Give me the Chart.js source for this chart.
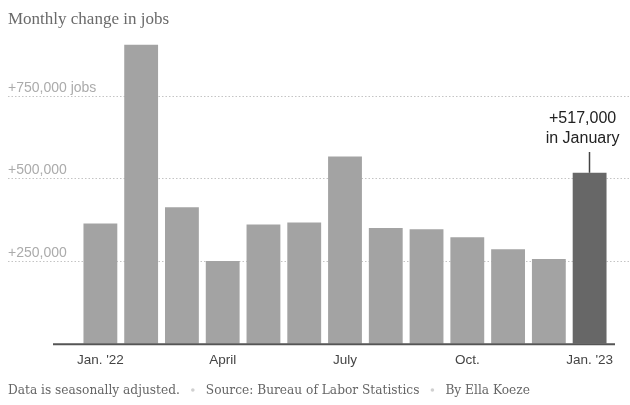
<!DOCTYPE html>
<html>
<head>
<meta charset="utf-8">
<script src="https://cdn.jsdelivr.net/npm/chart.js@4"></script>
<style>
  html, body { margin: 0; padding: 0; background: #fff; }
  #wrap { position: relative; width: 630px; height: 405px; }
</style>
</head>
<body>
<div id="wrap"><canvas id="c" width="630" height="405"></canvas></div>
<script>
const categories = ["Jan. '22", "Feb.", "March", "April", "May", "June", "July", "Aug.", "Sept.", "Oct.", "Nov.", "Dec.", "Jan. '23"];
const jobChanges = [364000, 904000, 413000, 250000, 361000, 367000, 566000, 350000, 346000, 322000, 286000, 256000, 517000];
const shownTickLabels = ["Jan. '22", "April", "July", "Oct.", "Jan. '23"];
const gridValues = [250000, 500000, 750000];
const gridLabels = ["+250,000", "+500,000", "+750,000 jobs"];
const titleText = "Monthly change in jobs";
const noteParts = ["Data is seasonally adjusted.", "Source: Bureau of Labor Statistics", "By Ella Koeze"];
const annotationLines = ["+517,000", "in January"];

const lastIdx = jobChanges.length - 1;
const barColors = jobChanges.map((v, i) => i === lastIdx ? '#676767' : '#a3a3a3');

const decor = {
  id: 'decor',
  beforeDatasetsDraw(chart) {
    const ctx = chart.ctx;
    const y = chart.scales.y;
    ctx.save();
    ctx.strokeStyle = '#c4c4c4';
    ctx.lineWidth = 1;
    ctx.setLineDash([1.5, 2]);
    gridValues.forEach((v, i) => {
      const py = Math.round(y.getPixelForValue(v)) + 0.5;
      ctx.beginPath();
      ctx.moveTo(8, py);
      ctx.lineTo(630, py);
      ctx.stroke();
      ctx.fillStyle = '#ababab';
      ctx.font = '14px "Liberation Sans", Arial, sans-serif';
      ctx.textAlign = 'left';
      ctx.textBaseline = 'alphabetic';
      ctx.fillText(gridLabels[i], 8, py - 5);
    });
    ctx.restore();
  },
  afterDatasetsDraw(chart) {
    const ctx = chart.ctx;
    const y = chart.scales.y;
    ctx.save();
    // baseline
    const by = y.getPixelForValue(0);
    ctx.strokeStyle = '#555';
    ctx.lineWidth = 2;
    ctx.beginPath();
    ctx.moveTo(53, by + 0.5);
    ctx.lineTo(615, by + 0.5);
    ctx.stroke();
    // annotation
    const bar = chart.getDatasetMeta(0).data[lastIdx];
    ctx.strokeStyle = '#444';
    ctx.lineWidth = 1.5;
    ctx.beginPath();
    ctx.moveTo(Math.round(bar.x) - 0.5, 152);
    ctx.lineTo(Math.round(bar.x) - 0.5, bar.y);
    ctx.stroke();
    ctx.fillStyle = '#222';
    ctx.font = '16px "Liberation Sans", Arial, sans-serif';
    ctx.textAlign = 'center';
    ctx.textBaseline = 'middle';
    ctx.fillText(annotationLines[0], bar.x - 7, 119);
    ctx.fillText(annotationLines[1], bar.x - 7, 139);
    // title
    ctx.fillStyle = '#6a6a6a';
    ctx.font = '17px "Liberation Serif", Georgia, serif';
    ctx.textAlign = 'left';
    ctx.textBaseline = 'alphabetic';
    ctx.fillText(titleText, 8, 24);
    // footer
    ctx.font = '12.2px "DejaVu Serif", Georgia, serif';
    let x = 8;
    const fy = 394;
    noteParts.forEach((p, i) => {
      ctx.fillStyle = '#666';
      ctx.fillText(p, x, fy);
      x += ctx.measureText(p).width;
      if (i < noteParts.length - 1) {
        ctx.fillStyle = '#d0d0d0';
        ctx.beginPath();
        ctx.arc(x + 13, fy - 4, 1.8, 0, Math.PI * 2);
        ctx.fill();
        x += 26;
      }
    });
    ctx.restore();
  }
};

new Chart(document.getElementById('c'), {
  type: 'bar',
  data: {
    labels: categories,
    datasets: [{
      data: jobChanges,
      backgroundColor: barColors,
      borderWidth: 0,
      barPercentage: 0.83,
      categoryPercentage: 1.0
    }]
  },
  options: {
    responsive: false,
    animation: false,
    events: [],
    layout: { padding: { left: 80, right: 20, top: 13, bottom: 29 } },
    plugins: { legend: { display: false }, tooltip: { enabled: false } },
    scales: {
      y: {
        display: false,
        min: 0,
        max: 1000000
      },
      x: {
        offset: true,
        border: { display: false },
        grid: { display: false, drawTicks: false },
        ticks: {
          autoSkip: false,
          maxRotation: 0,
          padding: 8,
          color: '#444',
          font: { family: '"Liberation Sans", Arial, sans-serif', size: 13.5 },
          callback: function(value) {
            const lbl = categories[value];
            return shownTickLabels.includes(lbl) ? lbl : '';
          }
        }
      }
    }
  },
  plugins: [decor]
});
</script>
</body>
</html>
